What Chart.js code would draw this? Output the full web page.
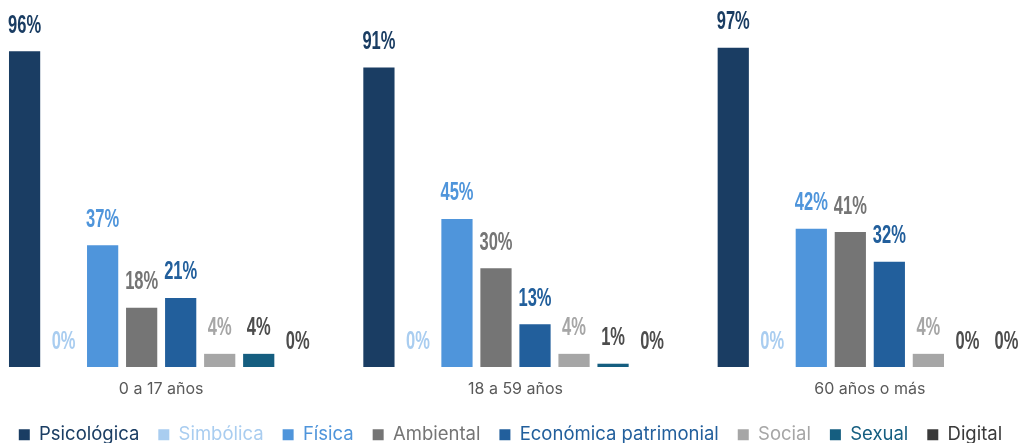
<!DOCTYPE html>
<html>
<head>
<meta charset="utf-8">
<script src="https://cdn.jsdelivr.net/npm/chart.js@4.4.1/dist/chart.umd.min.js"></script>
<style>
html,body{margin:0;padding:0;background:#fff;overflow:hidden;width:1018px;height:443px;}
#wrap{position:absolute;left:-16px;top:0;width:1063px;height:454px;}
</style>
</head>
<body>
<div id="wrap"><canvas id="c"></canvas></div>
<script>
const categories = ['0 a 17 años', '18 a 59 años', '60 años o más'];
const seriesNames = ['Psicológica', 'Simbólica', 'Física', 'Ambiental', 'Económica patrimonial', 'Social', 'Sexual', 'Digital'];
const psicologica = [96, 91, 97];
const simbolica = [0, 0, 0];
const fisica = [37, 45, 42];
const ambiental = [18, 30, 41];
const economica = [21, 13, 32];
const social = [4, 4, 4];
const sexual = [4, 1, 0];
const digital = [0, 0, 0];
const barColors = ['#1a3d63', '#a9cdf0', '#4f95db', '#757575', '#225f9c', '#a6a6a6', '#155e80', '#3a3a3a'];
const labelColors = ['#1a3d63', '#a9cdf0', '#4f95db', '#757575', '#225f9c', '#a6a6a6', '#4d4d4d', '#4d4d4d'];
const seriesValues = [psicologica, simbolica, fisica, ambiental, economica, social, sexual, digital];
const PLOT_BOTTOM = 367;

const valueLabels = {
  id: 'valueLabels',
  afterDatasetsDraw(chart) {
    const ctx = chart.ctx;
    chart.data.datasets.forEach((ds, i) => {
      const meta = chart.getDatasetMeta(i);
      meta.data.forEach((el, j) => {
        const txt = ds.data[j] + '%';
        ctx.save();
        ctx.font = 'bold 25px "Liberation Sans", Arial, sans-serif';
        ctx.fillStyle = labelColors[i];
        ctx.textAlign = 'center';
        ctx.textBaseline = 'alphabetic';
        ctx.translate(el.x, el.y - 18.5);
        ctx.scale(0.66, 1);
        ctx.fillText(txt, 0, 0);
        ctx.restore();
      });
    });
  }
};

const shiftLegend = {
  id: 'shiftLegend',
  afterLayout(chart) {
    if (chart.legend) { chart.legend.left -= 5; chart.legend.right -= 5; }
  }
};

new Chart(document.getElementById('c'), {
  type: 'bar',
  data: {
    labels: categories,
    datasets: seriesNames.map((name, i) => ({
      label: name,
      data: seriesValues[i],
      backgroundColor: barColors[i],
      borderWidth: 0,
      categoryPercentage: 0.881,
      barPercentage: 0.8
    }))
  },
  options: {
    responsive: true,
    maintainAspectRatio: false,
    animation: false,
    layout: { padding: { top: 38, left: 0, right: 0, bottom: 0 } },
    scales: {
      x: {
        grid: { display: false, drawTicks: false },
        border: { display: false },
        ticks: { color: '#595959', font: { family: 'Inter', size: 16 }, padding: 13 },
        afterFit(scale) {
          const ch = scale.chart;
          const lh = ch.legend ? ch.legend.height : 0;
          scale.height = ch.height - lh - PLOT_BOTTOM;
        }
      },
      y: {
        display: false,
        min: 0,
        max: 100
      }
    },
    plugins: {
      legend: {
        position: 'bottom',
        labels: {
          boxWidth: 11,
          boxHeight: 11,
          padding: 19,
          font: { family: 'Inter', size: 18.5 },
          generateLabels(chart) {
            return chart.data.datasets.map((ds, i) => ({
              text: ds.label,
              fillStyle: barColors[i],
              strokeStyle: barColors[i],
              lineWidth: 0,
              fontColor: barColors[i],
              hidden: false,
              datasetIndex: i
            }));
          }
        }
      },
      tooltip: { enabled: false }
    }
  },
  plugins: [valueLabels, shiftLegend]
});
</script>
</body>
</html>
